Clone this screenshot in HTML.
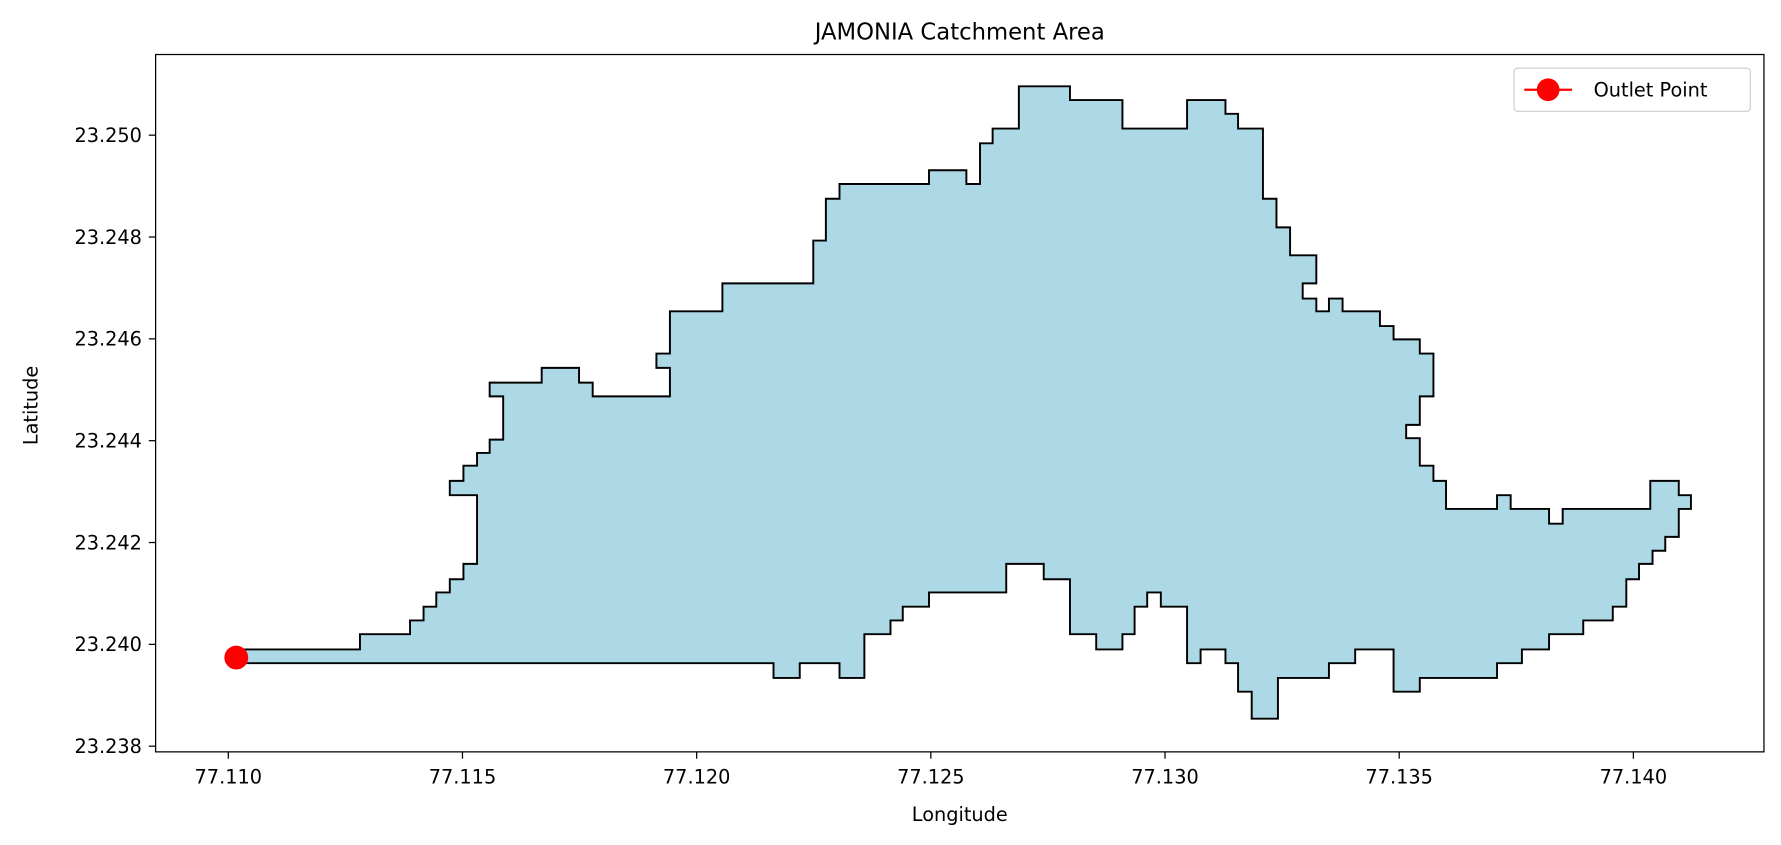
<!DOCTYPE html>
<html><head><meta charset="utf-8"><style>
html,body{margin:0;padding:0;background:#fff;}
svg{display:block;font-family:"DejaVu Sans","Liberation Sans",sans-serif;}
</style></head><body>
<svg id="chart" width="1781" height="845" viewBox="0 0 1568 744" preserveAspectRatio="none" xmlns="http://www.w3.org/2000/svg">
<rect x="0" y="0" width="1568" height="744" fill="#fff"/>
<text x="845" y="35" font-size="20" text-anchor="middle" fill="#000">JAMONIA Catchment Area</text>
<g id="plot"></g>
<rect x="137" y="48" width="1416" height="614" fill="none" stroke="#000" stroke-width="1.1"/>
<g id="xticks"></g><g id="yticks"></g>
<text x="845" y="723" font-size="17" text-anchor="middle">Longitude</text>
<text x="33" y="357" font-size="17" text-anchor="middle" transform="rotate(-90 33 357)">Latitude</text>
<g>
<rect x="1333" y="60" width="208" height="38" rx="3" fill="#fff" fill-opacity="0.8" stroke="#ccc" stroke-width="1"/>
<line x1="1342" y1="79" x2="1384" y2="79" stroke="red" stroke-width="2"/>
<circle cx="1363" cy="79" r="10" fill="red"/>
<text x="1403" y="85" font-size="17">Outlet Point</text>
</g>
</svg>
<script>
const xTicks=[77.110,77.115,77.120,77.125,77.130,77.135,77.140];
const xTickLabels=["77.110","77.115","77.120","77.125","77.130","77.135","77.140"];
const yTicks=[23.238,23.240,23.242,23.244,23.246,23.248,23.250];
const yTickLabels=["23.238","23.240","23.242","23.244","23.246","23.248","23.250"];
const boundaryLon=[77.11017,77.11281,77.11281,77.11388,77.11388,77.11417,77.11417,77.11444,77.11444,77.11473,77.11473,77.11502,77.11502,77.11531,77.11531,77.11473,77.11473,77.11502,77.11502,77.11531,77.11531,77.11558,77.11558,77.11587,77.11587,77.11558,77.11558,77.11669,77.11669,77.11749,77.11749,77.11778,77.11778,77.11943,77.11943,77.11914,77.11914,77.11943,77.11943,77.12055,77.12055,77.12249,77.12249,77.12276,77.12276,77.12305,77.12305,77.12496,77.12496,77.12576,77.12576,77.12605,77.12605,77.12632,77.12632,77.12688,77.12688,77.12797,77.12797,77.12909,77.12909,77.13047,77.13047,77.13129,77.13129,77.13156,77.13156,77.13209,77.13209,77.13238,77.13238,77.13267,77.13267,77.13323,77.13323,77.13294,77.13294,77.13323,77.13323,77.13350,77.13350,77.13379,77.13379,77.13459,77.13459,77.13488,77.13488,77.13544,77.13544,77.13573,77.13573,77.13544,77.13544,77.13515,77.13515,77.13544,77.13544,77.13573,77.13573,77.13600,77.13600,77.13709,77.13709,77.13738,77.13738,77.13820,77.13820,77.13849,77.13849,77.14036,77.14036,77.14097,77.14097,77.14123,77.14123,77.14097,77.14097,77.14068,77.14068,77.14041,77.14041,77.14012,77.14012,77.13985,77.13985,77.13956,77.13956,77.13893,77.13893,77.13820,77.13820,77.13762,77.13762,77.13709,77.13709,77.13544,77.13544,77.13488,77.13488,77.13406,77.13406,77.13350,77.13350,77.13241,77.13241,77.13185,77.13185,77.13156,77.13156,77.13129,77.13129,77.13076,77.13076,77.13047,77.13047,77.12991,77.12991,77.12962,77.12962,77.12935,77.12935,77.12909,77.12909,77.12853,77.12853,77.12797,77.12797,77.12741,77.12741,77.12661,77.12661,77.12496,77.12496,77.12440,77.12440,77.12414,77.12414,77.12358,77.12358,77.12305,77.12305,77.12220,77.12220,77.12164,77.12164,77.11017];
const boundaryLat=[23.23990,23.23990,23.24020,23.24020,23.24047,23.24047,23.24074,23.24074,23.24102,23.24102,23.24128,23.24128,23.24158,23.24158,23.24293,23.24293,23.24321,23.24321,23.24351,23.24351,23.24376,23.24376,23.24402,23.24402,23.24487,23.24487,23.24514,23.24514,23.24543,23.24543,23.24514,23.24514,23.24487,23.24487,23.24543,23.24543,23.24571,23.24571,23.24654,23.24654,23.24709,23.24709,23.24793,23.24793,23.24875,23.24875,23.24904,23.24904,23.24931,23.24931,23.24904,23.24904,23.24984,23.24984,23.25013,23.25013,23.25096,23.25096,23.25069,23.25069,23.25013,23.25013,23.25069,23.25069,23.25042,23.25042,23.25013,23.25013,23.24875,23.24875,23.24819,23.24819,23.24764,23.24764,23.24709,23.24709,23.24679,23.24679,23.24654,23.24654,23.24679,23.24679,23.24654,23.24654,23.24625,23.24625,23.24599,23.24599,23.24571,23.24571,23.24487,23.24487,23.24431,23.24431,23.24405,23.24405,23.24351,23.24351,23.24321,23.24321,23.24266,23.24266,23.24293,23.24293,23.24266,23.24266,23.24237,23.24237,23.24266,23.24266,23.24321,23.24321,23.24293,23.24293,23.24266,23.24266,23.24211,23.24211,23.24184,23.24184,23.24158,23.24158,23.24128,23.24128,23.24074,23.24074,23.24047,23.24047,23.24020,23.24020,23.23990,23.23990,23.23963,23.23963,23.23934,23.23934,23.23907,23.23907,23.23990,23.23990,23.23963,23.23963,23.23934,23.23934,23.23854,23.23854,23.23907,23.23907,23.23963,23.23963,23.23990,23.23990,23.23963,23.23963,23.24074,23.24074,23.24102,23.24102,23.24074,23.24074,23.24020,23.24020,23.23990,23.23990,23.24020,23.24020,23.24128,23.24128,23.24158,23.24158,23.24102,23.24102,23.24074,23.24074,23.24047,23.24047,23.24020,23.24020,23.23934,23.23934,23.23963,23.23963,23.23934,23.23934,23.23963,23.23963];
const outletLon=[77.11017];
const outletLat=[23.23974];

const NS="http://www.w3.org/2000/svg";
function xs(v){return 201+(v-77.110)/0.005*206.17;}
function ys(v){return 119+(23.250-v)/0.002*89.67;}
const plot=document.getElementById('plot');
let d="";
for(let i=0;i<boundaryLon.length;i++){d+=(i?"L":"M")+xs(boundaryLon[i]).toFixed(1)+","+ys(boundaryLat[i]).toFixed(1);}
d+="Z";
const poly=document.createElementNS(NS,'path');


poly.setAttribute('d',d);poly.setAttribute('fill','#add8e6');poly.setAttribute('stroke','#000');poly.setAttribute('stroke-width','1.7');
plot.appendChild(poly);
for(let i=0;i<outletLon.length;i++){
 const c=document.createElementNS(NS,'circle');
 
 
 c.setAttribute('cx',xs(outletLon[i]));c.setAttribute('cy',ys(outletLat[i]));c.setAttribute('r','10.5');c.setAttribute('fill','red');
 plot.appendChild(c);
}
const xg=document.getElementById('xticks');
xTicks.forEach((t,i)=>{
 const x=xs(t);
 const l=document.createElementNS(NS,'line');
 
 
 l.setAttribute('x1',x);l.setAttribute('x2',x);l.setAttribute('y1',662);l.setAttribute('y2',668);l.setAttribute('stroke','#000');l.setAttribute('stroke-width','1.1');
 xg.appendChild(l);
 const tx=document.createElementNS(NS,'text');
 
 
 tx.setAttribute('x',x);tx.setAttribute('y',690);tx.setAttribute('font-size','17');tx.setAttribute('text-anchor','middle');
 tx.textContent=xTickLabels[i];xg.appendChild(tx);
});
const yg=document.getElementById('yticks');
yTicks.forEach((t,i)=>{
 const y=ys(t);
 const l=document.createElementNS(NS,'line');
 
 
 l.setAttribute('x1',131);l.setAttribute('x2',137);l.setAttribute('y1',y);l.setAttribute('y2',y);l.setAttribute('stroke','#000');l.setAttribute('stroke-width','1.1');
 yg.appendChild(l);
 const tx=document.createElementNS(NS,'text');
 
 
 tx.setAttribute('x',125);tx.setAttribute('y',y+6);tx.setAttribute('font-size','17');tx.setAttribute('text-anchor','end');
 tx.textContent=yTickLabels[i];yg.appendChild(tx);
});
</script>
</body></html>
